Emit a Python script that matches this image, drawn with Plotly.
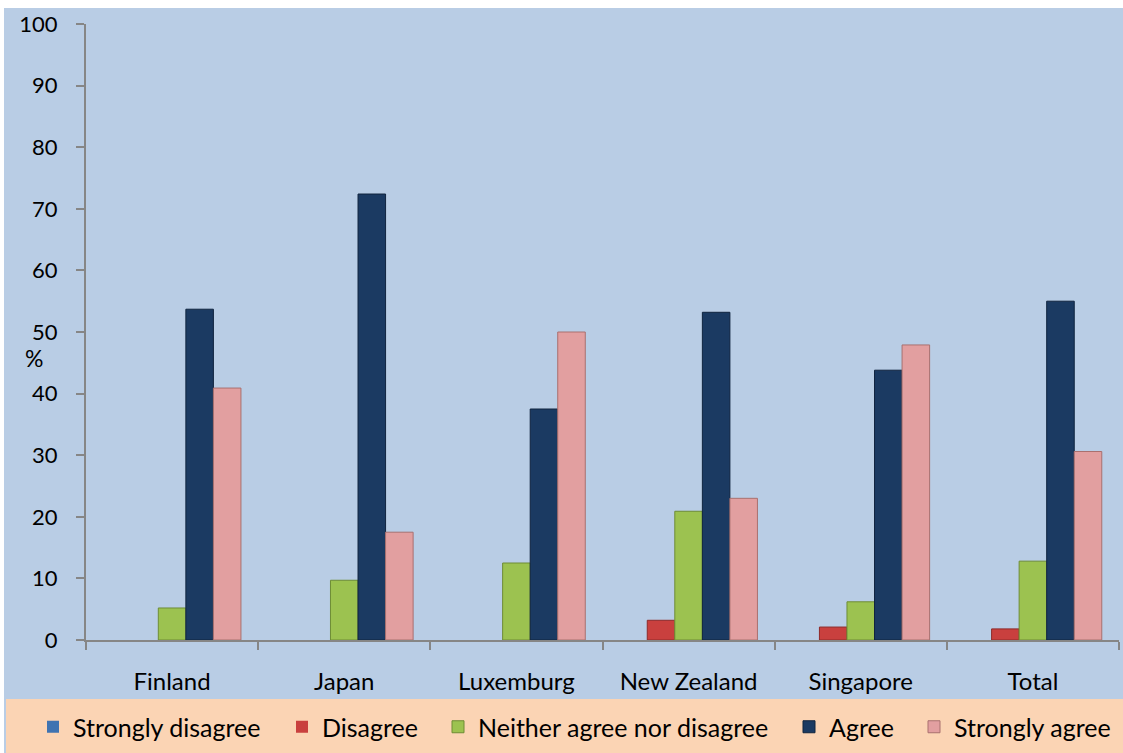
import plotly.graph_objects as go

# Survey responses by country (%)
countries = ["Finland", "Japan", "Luxemburg", "New Zealand", "Singapore", "Total"]
strongly_disagree = [0, 0, 0, 0, 0, 0]
disagree = [0, 0, 0, 3.2, 2.1, 1.8]
neither = [5.2, 9.7, 12.5, 20.9, 6.2, 12.8]
agree = [53.7, 72.4, 37.5, 53.2, 43.8, 55.0]
strongly_agree = [40.9, 17.5, 50.0, 23.0, 47.9, 30.6]

series = [
    ("Strongly disagree", strongly_disagree, "#3F73B1", "#2B5587"),
    ("Disagree", disagree, "#C9403E", "#8E2A29"),
    ("Neither agree nor disagree", neither, "#9CC250", "#6E8C35"),
    ("Agree", agree, "#1B3A62", "#10243F"),
    ("Strongly agree", strongly_agree, "#E29FA0", "#A9706F"),
]

W, H = 1123, 753
FONT = "Lato, 'Noto Sans', sans-serif"
AXIS = "#868686"

# left edge (px) of each legend entry along the bottom band
legend_x_px = [33, 282, 438, 789, 914]

fig = go.Figure()
legend_ids = ["legend"] + [f"legend{i}" for i in range(2, len(series) + 1)]
for (name, vals, fill, edge), lid in zip(series, legend_ids):
    fig.add_trace(go.Bar(
        name=name, x=countries, y=vals, legend=lid,
        marker=dict(color=fill,
                    line=dict(color=edge, width=[1 if v > 0 else 0 for v in vals])),
    ))

legend_style = dict(
    orientation="h", xref="container", yref="container",
    y=1 - 727 / H, xanchor="left", yanchor="middle",
    bgcolor="rgba(0,0,0,0)", font=dict(family=FONT, size=25, color="black"),
    itemclick=False, itemdoubleclick=False,
)

fig.update_layout(
    width=W, height=H,
    margin=dict(l=86, r=4, t=24, b=113, pad=0),
    paper_bgcolor="white",
    plot_bgcolor="rgba(0,0,0,0)",
    barmode="group", bargap=0.2, bargroupgap=0,
    font=dict(family=FONT, size=22, color="black"),
    showlegend=True,
    shapes=[
        # chart area background
        dict(type="rect", xref="paper", yref="paper", layer="below",
             x0=(4 - 86) / 1033, x1=(W - 86) / 1033,
             y0=(640 - H) / 616, y1=(640 - 8) / 616,
             fillcolor="#B9CDE5", line=dict(width=0)),
        # legend band
        dict(type="rect", xref="paper", yref="paper", layer="below",
             x0=(6 - 86) / 1033, x1=(W - 86) / 1033,
             y0=(640 - H) / 616, y1=(640 - 699) / 616,
             fillcolor="#FBD4B4", line=dict(width=0)),
    ],
    annotations=[
        dict(text="%", xref="paper", yref="paper", x=(34 - 86) / 1033,
             y=(640 - 358) / 616, showarrow=False, xanchor="center",
             yanchor="middle", font=dict(family=FONT, size=23, color="black")),
    ],
)
for lid, px in zip(legend_ids, legend_x_px):
    fig.update_layout({lid: dict(legend_style, x=px / W)})

fig.update_xaxes(
    showline=True, linecolor=AXIS, linewidth=2,
    ticks="outside", tickson="boundaries", ticklen=8, tickcolor=AXIS, tickwidth=2,
    ticklabelstandoff=19, showgrid=False, zeroline=False,
    tickfont=dict(family=FONT, size=24, color="black"),
)
fig.update_yaxes(
    range=[0, 100], dtick=10, showline=True, linecolor=AXIS, linewidth=2,
    ticks="outside", ticklen=8, tickcolor=AXIS, tickwidth=2,
    ticklabelstandoff=14, showgrid=False, zeroline=False,
    tickfont=dict(family=FONT, size=22, color="black"),
)

fig.write_html("out.html")
